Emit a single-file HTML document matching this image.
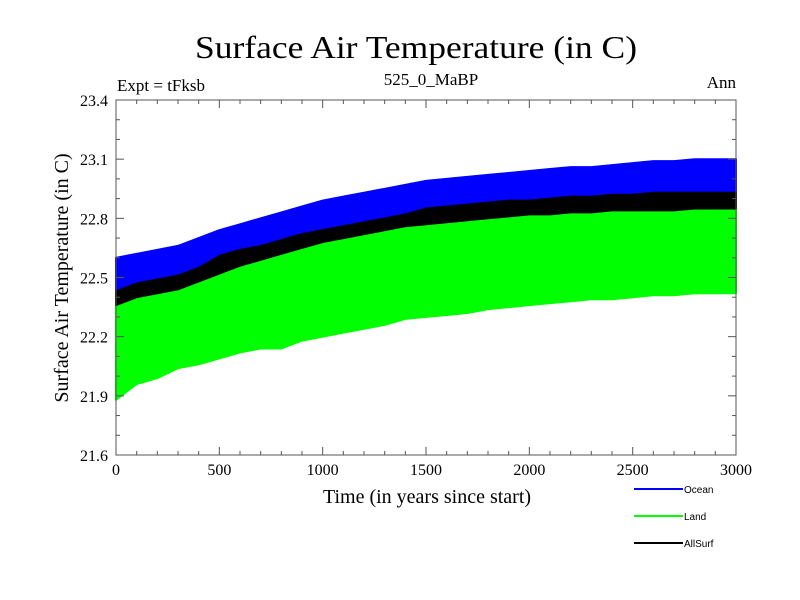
<!DOCTYPE html>
<html><head><meta charset="utf-8"><style>
html,body{margin:0;padding:0;background:#fff;}
svg{display:block;font-family:"Liberation Serif",serif;}
</style></head><body>
<svg id="chart" width="800" height="600" viewBox="0 0 800 600" xmlns="http://www.w3.org/2000/svg">
<rect x="0" y="0" width="800" height="600" fill="#fff"/>
<text x="416" y="58" font-size="32" text-anchor="middle" textLength="442" lengthAdjust="spacingAndGlyphs">Surface Air Temperature (in C)</text>
<text x="117" y="91" font-size="17">Expt = tFksb</text>
<text x="431" y="85" font-size="17" text-anchor="middle">525_0_MaBP</text>
<text x="736" y="88" font-size="17" text-anchor="end">Ann</text>
<text x="0" y="0" font-size="20" text-anchor="middle" transform="translate(68,278) rotate(-90)">Surface Air Temperature (in C)</text>
<text x="427" y="503" font-size="20" text-anchor="middle">Time (in years since start)</text>
<g id="series"></g>
<g id="axes"></g>
<g id="legend"></g>
</svg>
<script>
const years = [0,100,200,300,400,500,600,700,800,900,1000,1100,1200,1300,1400,1500,1600,1700,1800,1900,2000,2100,2200,2300,2400,2500,2600,2700,2800,2900,3000];
const oceanHi = [22.60,22.62,22.64,22.66,22.70,22.74,22.77,22.80,22.83,22.86,22.89,22.91,22.93,22.95,22.97,22.99,23.00,23.01,23.02,23.03,23.04,23.05,23.06,23.06,23.07,23.08,23.09,23.09,23.10,23.10,23.10];
const oceanLo = [22.44,22.48,22.50,22.52,22.56,22.62,22.65,22.67,22.70,22.73,22.75,22.77,22.79,22.81,22.83,22.86,22.87,22.88,22.89,22.90,22.90,22.91,22.92,22.92,22.93,22.93,22.94,22.94,22.94,22.94,22.94];
const allHi = [22.48,22.50,22.52,22.54,22.58,22.64,22.67,22.69,22.72,22.75,22.77,22.79,22.81,22.83,22.85,22.87,22.88,22.89,22.90,22.91,22.92,22.92,22.93,22.93,22.94,22.94,22.95,22.95,22.95,22.95,22.95];
const allLo = [22.36,22.40,22.42,22.44,22.48,22.52,22.56,22.59,22.62,22.65,22.68,22.70,22.72,22.74,22.76,22.77,22.78,22.79,22.80,22.81,22.82,22.82,22.83,22.83,22.84,22.84,22.84,22.84,22.85,22.85,22.85];
const landHi = [22.45,22.50,22.52,22.55,22.60,22.62,22.65,22.70,22.72,22.72,22.75,22.75,22.78,22.80,22.80,22.82,22.83,22.85,22.87,22.88,22.90,22.90,22.90,22.92,22.93,22.95,22.95,22.95,22.97,22.97,22.95];
const landLo = [21.88,21.96,21.99,22.04,22.06,22.09,22.12,22.14,22.14,22.18,22.20,22.22,22.24,22.26,22.29,22.30,22.31,22.32,22.34,22.35,22.36,22.37,22.38,22.39,22.39,22.40,22.41,22.41,22.42,22.42,22.42];
const yTicks = [21.6,21.9,22.2,22.5,22.8,23.1,23.4];
const yTickLabels = ["21.6","21.9","22.2","22.5","22.8","23.1","23.4"];
const xTicks = [0,500,1000,1500,2000,2500,3000];
const xTickLabels = ["0","500","1000","1500","2000","2500","3000"];
const legendNames = ["Ocean","Land","AllSurf"];

const L=116,R=736,T=100,B=455, X0=0,X1=3000,Y0=21.6,Y1=23.4;
const xs = v => L + (v-X0)/(X1-X0)*(R-L);
const ys = v => B - (v-Y0)/(Y1-Y0)*(B-T);
const NS="http://www.w3.org/2000/svg";
function mk(tag, attrs, parent){const e=document.createElementNS(NS,tag);for(const k in attrs)e.setAttribute(k,attrs[k]);parent.appendChild(e);return e;}

const sg=document.getElementById('series');
function band(hi, lo, color, name){
  let d='M'+years.map((x,i)=>xs(x).toFixed(1)+','+ys(hi[i]).toFixed(1)).join('L');
  d+='L'+years.slice().reverse().map((x,j)=>{const i=years.length-1-j;return xs(x).toFixed(1)+','+ys(lo[i]).toFixed(1);}).join('L')+'Z';
  const p=mk('path',{d:d,fill:color,stroke:color,'stroke-width':2,'stroke-linejoin':'round'},sg);
  
  
}
band(landHi, landLo, '#00ff00', 'land-series');
band(allHi, allLo, '#000000', 'allsurf-series');
band(oceanHi, oceanLo, '#0000ff', 'ocean-series');

const ax=document.getElementById('axes');
const frame=mk('rect',{x:L,y:T,width:R-L,height:B-T,fill:'none',stroke:'#555','stroke-width':1},ax);


for(let v=X0; v<=X1; v+=100){
  const major = v%500===0; const len = major?8:4;
  const x=xs(v);
  const t1=mk('line',{x1:x,x2:x,y1:B,y2:B-len,stroke:'#555','stroke-width':1},ax);
  
  
  const t2=mk('line',{x1:x,x2:x,y1:T,y2:T+len,stroke:'#555','stroke-width':1},ax);
  
  
}
for(let k=0; k<=18; k++){
  const v=Y0+k*0.1; const major=k%3===0; const len=major?8:4; const y=ys(v);
  const t1=mk('line',{x1:L,x2:L+len,y1:y,y2:y,stroke:'#555','stroke-width':1},ax);
  
  
  const t2=mk('line',{x1:R,x2:R-len,y1:y,y2:y,stroke:'#555','stroke-width':1},ax);
  
  
}
xTicks.forEach((v,i)=>{
  const t=mk('text',{x:xs(v),y:475,'font-size':16,'text-anchor':'middle'},ax);
  t.textContent=xTickLabels[i];
  
  
});
yTicks.forEach((v,i)=>{
  const t=mk('text',{x:108,y:ys(v)+6,'font-size':16,'text-anchor':'end'},ax);
  t.textContent=yTickLabels[i];
  
  
});

const lg=document.getElementById('legend');
const lcolors=['#0000ff','#00ff00','#000000'];
legendNames.forEach((n,i)=>{
  const y=489+i*27;
  const ln=mk('line',{x1:634,x2:683,y1:y,y2:y,stroke:lcolors[i],'stroke-width':2},lg);
  
  
  const t=mk('text',{x:684,y:y+4,'font-size':10,'font-family':'Liberation Sans, sans-serif'},lg);
  t.textContent=n;
  
  
});
</script>
</body></html>
